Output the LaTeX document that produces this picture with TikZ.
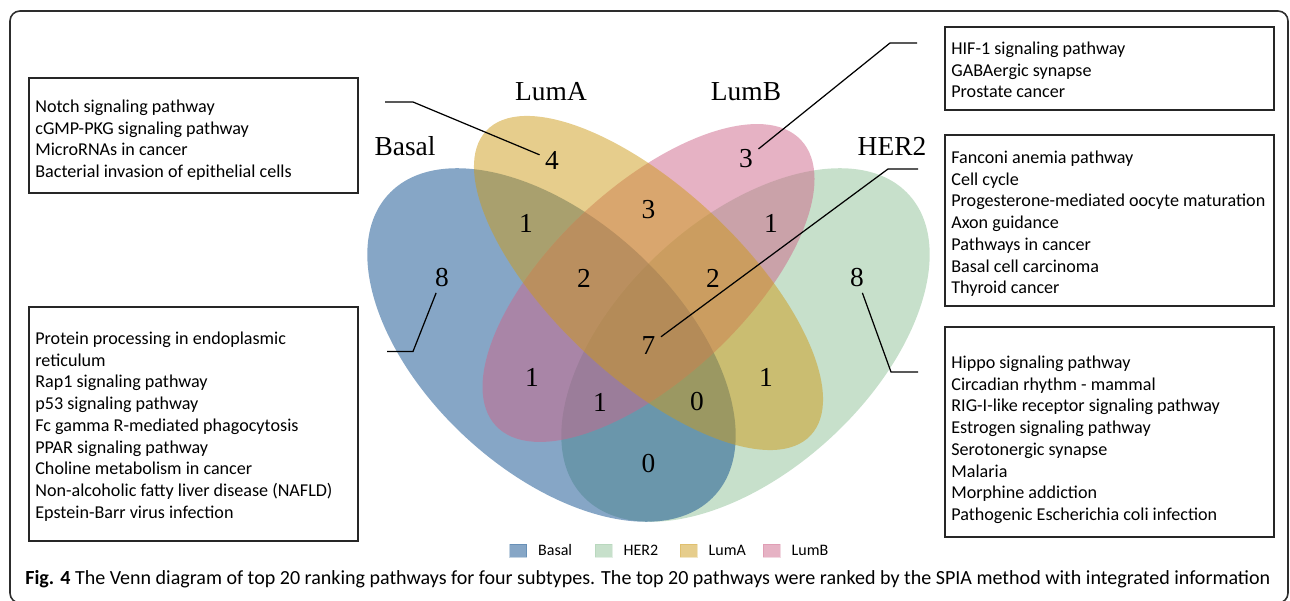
\documentclass[tikz,border=0pt]{standalone}
\usepackage{fontspec}
\setmainfont{Liberation Serif}
\newfontfamily\listfont{Carlito}
\usetikzlibrary{positioning}

\definecolor{basalcol}{RGB}{14,78,141}
\definecolor{her2col}{RGB}{143,193,151}
\definecolor{lumacol}{RGB}{205,155,25}
\definecolor{lumbcol}{RGB}{205,101,137}
\definecolor{framecol}{RGB}{45,45,45}

\tikzset{
  setfill/.style={fill=#1, fill opacity=0.5, draw=none},
  setname/.style={font=\fontsize{15.6}{18}\selectfont, inner sep=0pt},
  count/.style={font=\fontsize{15.6}{18}\selectfont, inner sep=3pt},
  leader/.style={line width=0.7pt},
  listbox/.style={draw=black!85, line width=0.8pt},
  listtext/.style={font=\listfont\fontsize{10.3}{12.4}\selectfont, align=left, inner sep=0pt, anchor=north west},
  keybox/.style={fill=#1, fill opacity=0.5, draw=#1, draw opacity=0.25, minimum width=0.34cm, minimum height=0.26cm, inner sep=0pt},
  keytext/.style={font=\listfont\fontsize{9.1}{11}\selectfont, inner sep=0pt, anchor=west},
  captext/.style={font=\listfont\fontsize{11.4}{13}\selectfont, inner sep=0pt, anchor=base west}
}

\begin{document}
\begin{tikzpicture}
      \useasboundingbox (0,0) rectangle (25.8,-12.02);
      \draw[framecol, line width=0.9pt, rounded corners=0.2cm] (0.2,-0.22) rectangle (25.76,-12.06);

      % the four sets
      \fill[setfill=her2col, rotate around={42.7:(14.91,-6.9)}] (14.91,-6.9) ellipse (4.44 and 2.52);
      \fill[setfill=basalcol, rotate around={-42.7:(11.03,-6.9)}] (11.03,-6.9) ellipse (4.44 and 2.52);
      \fill[setfill=lumbcol, rotate around={43.1:(12.97,-5.66)}] (12.97,-5.66) ellipse (4.18 and 1.91);
      \fill[setfill=lumacol, rotate around={-43.2:(12.97,-5.66)}] (12.97,-5.66) ellipse (4.45 and 1.88);

      \node[setname] (nameBasal) at (8.1,-2.92) {Basal};
      \node[setname] (nameLumA) at (11.02,-1.84) {LumA};
      \node[setname] (nameLumB) at (14.92,-1.84) {LumB};
      \node[setname] (nameHER2) at (17.84,-2.92) {HER2};

      % region counts
      \node[count] (bas) at (8.84,-5.56) {8};
      \node[count] (luma) at (11.04,-3.2) {4};
      \node[count] (lumb) at (14.92,-3.18) {3};
      \node[count] (her) at (17.14,-5.56) {8};
      \node[count] (baslA) at (10.52,-4.46) {1};
      \node[count] (lAlB) at (12.97,-4.2) {3};
      \node[count] (lBher) at (15.42,-4.46) {1};
      \node[count] (baslAlB) at (11.68,-5.56) {2};
      \node[count] (lAlBher) at (14.26,-5.56) {2};
      \node[count] (all) at (12.97,-6.92) {7};
      \node[count] (baslB) at (10.64,-7.54) {1};
      \node[count] (lAher) at (15.32,-7.54) {1};
      \node[count] (baslBher) at (12.0,-8.04) {1};
      \node[count] (baslAher) at (13.94,-8.04) {0};
      \node[count] (basher) at (12.97,-9.28) {0};

      % leaders
      \coordinate (bendA) at (8.26,-2.04);
      \coordinate (endA) at (7.70,-2.04);
      \coordinate (bendBas) at (8.26,-7.03);
      \coordinate (endBas) at (7.74,-7.03);
      \coordinate (bendB) at (17.8,-0.86);
      \coordinate (endB) at (18.34,-0.86);
      \coordinate (bendAll) at (17.76,-3.38);
      \coordinate (endAll) at (18.36,-3.38);
      \coordinate (bendH) at (17.82,-7.44);
      \coordinate (endH) at (18.36,-7.44);
      \draw[leader] (luma) -- (bendA) -- (endA);
      \draw[leader] (bas) -- (bendBas) -- (endBas);
      \draw[leader] (lumb) -- (bendB) -- (endB);
      \draw[leader] (all) -- (bendAll) -- (endAll);
      \draw[leader] (her) -- (bendH) -- (endH);

      % pathway lists
      \draw[listbox] (0.58,-1.56) rectangle (7.16,-3.86);
      \node[listtext] (listA) at (0.70,-1.986) {Notch signaling pathway\\cGMP-PKG signaling pathway\\MicroRNAs in cancer\\Bacterial invasion of epithelial cells};

      \draw[listbox] (0.58,-6.14) rectangle (7.16,-10.82);
      \node[listtext] (listBas) at (0.70,-6.626) {Protein processing in endoplasmic\\reticulum\\Rap1 signaling pathway\\p53 signaling pathway\\Fc gamma R-mediated phagocytosis\\PPAR signaling pathway\\Choline metabolism in cancer\\Non-alcoholic fatty liver disease (NAFLD)\\Epstein-Barr virus infection};

      \draw[listbox] (18.9,-0.54) rectangle (25.48,-2.2);
      \node[listtext] (listB) at (19.02,-0.826) {HIF-1 signaling pathway\\GABAergic synapse\\Prostate cancer};

      \draw[listbox] (18.9,-2.7) rectangle (25.48,-6.12);
      \node[listtext] (listAll) at (19.02,-3.006) {Fanconi anemia pathway\\Cell cycle\\Progesterone-mediated oocyte maturation\\Axon guidance\\Pathways in cancer\\Basal cell carcinoma\\Thyroid cancer};

      \draw[listbox] (18.9,-6.54) rectangle (25.48,-10.74);
      \node[listtext] (listH) at (19.02,-7.106) {Hippo signaling pathway\\Circadian rhythm - mammal\\RIG-I-like receptor signaling pathway\\Estrogen signaling pathway\\Serotonergic synapse\\Malaria\\Morphine addiction\\Pathogenic Escherichia coli infection};

      % legend
      \node[keybox=basalcol] (keyBasal) at (10.36,-11.01) {};
      \node[keytext, right=0.22cm of keyBasal] (keyBasalText) {Basal};
      \node[keybox=her2col] (keyHER2) at (12.07,-11.01) {};
      \node[keytext, right=0.22cm of keyHER2] (keyHER2Text) {HER2};
      \node[keybox=lumacol] (keyLumA) at (13.77,-11.01) {};
      \node[keytext, right=0.22cm of keyLumA] (keyLumAText) {LumA};
      \node[keybox=lumbcol] (keyLumB) at (15.43,-11.01) {};
      \node[keytext, right=0.22cm of keyLumB] (keyLumBText) {LumB};

      \node[captext] (caption) at (0.5,-11.7) {\textbf{Fig. 4} The Venn diagram of top 20 ranking pathways for four subtypes. The top 20 pathways were ranked by the SPIA method with integrated information};
\end{tikzpicture}
\end{document}
